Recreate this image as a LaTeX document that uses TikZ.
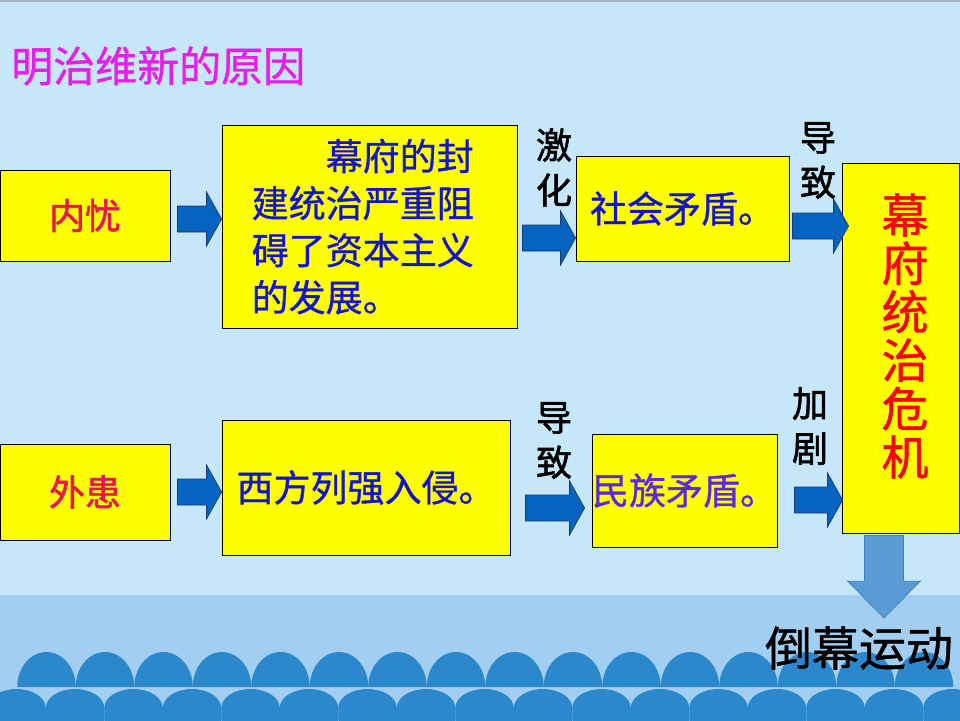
\documentclass[tikz,border=0pt]{standalone}
\usepackage{fontspec}
\setmainfont{Noto Sans CJK SC}
\newfontfamily\cjkmedium[FakeBold=0.9]{Noto Sans CJK SC}
\newfontfamily\cjkbold[FakeBold=1.6]{Noto Sans CJK SC}
\usepackage{tikz}
\usetikzlibrary{positioning,calc}

\definecolor{skybg}{HTML}{C6E7F9}
\definecolor{bandbg}{HTML}{A2CEF1}
\definecolor{wavecol}{HTML}{2B88CC}
\definecolor{topline}{HTML}{A8B4C4}
\definecolor{boxyellow}{HTML}{FFFF00}
\definecolor{titlemag}{HTML}{E81EE8}
\definecolor{rootred}{HTML}{E8164B}
\definecolor{textblue}{HTML}{1414CC}
\definecolor{textviolet}{HTML}{5A28E6}
\definecolor{arrowblue}{HTML}{0563C1}
\definecolor{arrowedge}{HTML}{1B3A6B}
\definecolor{downblue}{HTML}{5B9BD5}
\definecolor{downedge}{HTML}{4A7FB5}

\begin{document}
\begin{tikzpicture}[
    x=1pt, y=-1pt,
    yellowbox/.style={
        rectangle,
        draw=black,
        fill=boxyellow,
        line width=0.9pt,
        inner sep=0pt,
        align=center
    },
    titletext/.style={
        font=\cjkmedium\fontsize{42}{48}\selectfont,
        text=titlemag,
        inner sep=0pt
    },
    rootlabel/.style={
        font=\cjkbold\fontsize{36}{44}\selectfont,
        text=rootred
    },
    bodytext/.style={
        font=\cjkmedium\fontsize{37}{47}\selectfont,
        text=textblue,
        inner sep=0pt
    },
    edgelabel/.style={
        font=\cjkbold\fontsize{36}{45}\selectfont,
        align=center,
        inner sep=0pt
    },
    crisislabel/.style={
        font=\cjkmedium\fontsize{47}{48.4}\selectfont,
        text=red,
        align=center,
        inner sep=0pt
    },
    fatarrow/.style={
        draw=arrowedge,
        fill=arrowblue,
        line width=0.7pt,
        to path={let \p1=(\tikztostart), \p2=(\tikztotarget) in
            (\x1,\y1+13pt) -- (\x2-15pt,\y1+13pt) -- (\x2-15pt,\y1+27pt) -- (\x2,\y1)
            -- (\x2-15pt,\y1-27pt) -- (\x2-15pt,\y1-13pt) -- (\x1,\y1-13pt) -- cycle}
    },
    downarrow/.style={
        draw=downedge,
        fill=downblue,
        line width=0.6pt,
        to path={let \p1=(\tikztostart), \p2=(\tikztotarget) in
            (\x1-19.5pt,\y1) -- (\x1+19.5pt,\y1) -- (\x1+19.5pt,\y2+37pt) -- (\x1+36.5pt,\y2+37pt)
            -- (\x1,\y2) -- (\x1-36.5pt,\y2+37pt) -- (\x1-19.5pt,\y2+37pt) -- cycle}
    }
]
\useasboundingbox (0,0) rectangle (960,720);
% background and waves
\fill[skybg] (0,0) rectangle (960,595);
\fill[bandbg] (0,595) rectangle (960,720);
\fill[topline] (0,0) rectangle (960,2);
\foreach \k in {0,...,15} {
    \fill[wavecol] ({17.25+58.5*\k},687) arc[start angle=180, end angle=0, x radius=29.25pt, y radius=35pt] -- cycle;
}
\foreach \k in {0,...,16} {
    \fill[wavecol] ({-12.75+58.5*\k},721) -- ++(0,-13) arc[start angle=180, end angle=0, x radius=29.25pt, y radius=19pt] -- ++(0,13) -- cycle;
}

\node (title) [titletext, anchor=west] at (11,66) {明治维新的原因};

% boxes
\node (neiyou) [yellowbox, rootlabel, minimum width=170pt, minimum height=91pt] at (85,215.5) {内忧};
\node (waihuan) [yellowbox, rootlabel, minimum width=170pt, minimum height=96pt] at (85,492) {外患};
\node (cause) [yellowbox, minimum width=295pt, minimum height=203pt] at (369.5,226.5) {};
\node (causetext) [bodytext, align=left, right=30pt of cause.west] {\hspace*{2em}幕府的封\\建统治严重阻\\碍了资本主义\\的发展。};
\node (invasion) [yellowbox, bodytext, minimum width=288pt, minimum height=135pt] at (366,487.5) {西方列强入侵。};
\node (social) [yellowbox, bodytext, minimum width=213pt, minimum height=105pt] at (682.5,208.5) {社会矛盾。};
\node (nation) [yellowbox, bodytext, text=textviolet, minimum width=183pt, minimum height=113pt] at (684.5,490.5) {民族矛盾。};
\node (crisis) [yellowbox, minimum width=117pt, minimum height=370pt] at (900.5,348) {};
\node (crisistext) [crisislabel] at (905,336) {幕\\府\\统\\治\\危\\机};
\node (daomu) [font=\cjkmedium\fontsize{47}{50}\selectfont, inner sep=0pt] at (859,648) {倒幕运动};

% labels
\node (jihua) [edgelabel] at (554,167.5) {激\\化};
\node (daozhitop) [edgelabel] at (818,160.5) {导\\致};
\node (daozhibot) [edgelabel] at (554,440.5) {导\\致};
\node (jiaju) [edgelabel] at (810,426) {加\\剧};

% arrows
\draw [fatarrow] ([shift={(7,3.5)}]neiyou.east) to (cause.west);
\draw [fatarrow] ([shift={(7,0)}]waihuan.east) to (invasion.west);
\draw [fatarrow] ([shift={(5,11.5)}]cause.east) to (social.west);
\draw [fatarrow] ([shift={(3,17.5)}]social.east) to ([xshift=7pt]crisis.west);
\draw [fatarrow] ([shift={(15,20.5)}]invasion.east) to ([xshift=-7pt]nation.west);
\draw [fatarrow] ([shift={(17,9.5)}]nation.east) to ([xshift=1pt]crisis.west);
\draw [downarrow] ([shift={(-16.5,2)}]crisis.south) to ([yshift=8pt]daomu.north);
\end{tikzpicture}
\end{document}
